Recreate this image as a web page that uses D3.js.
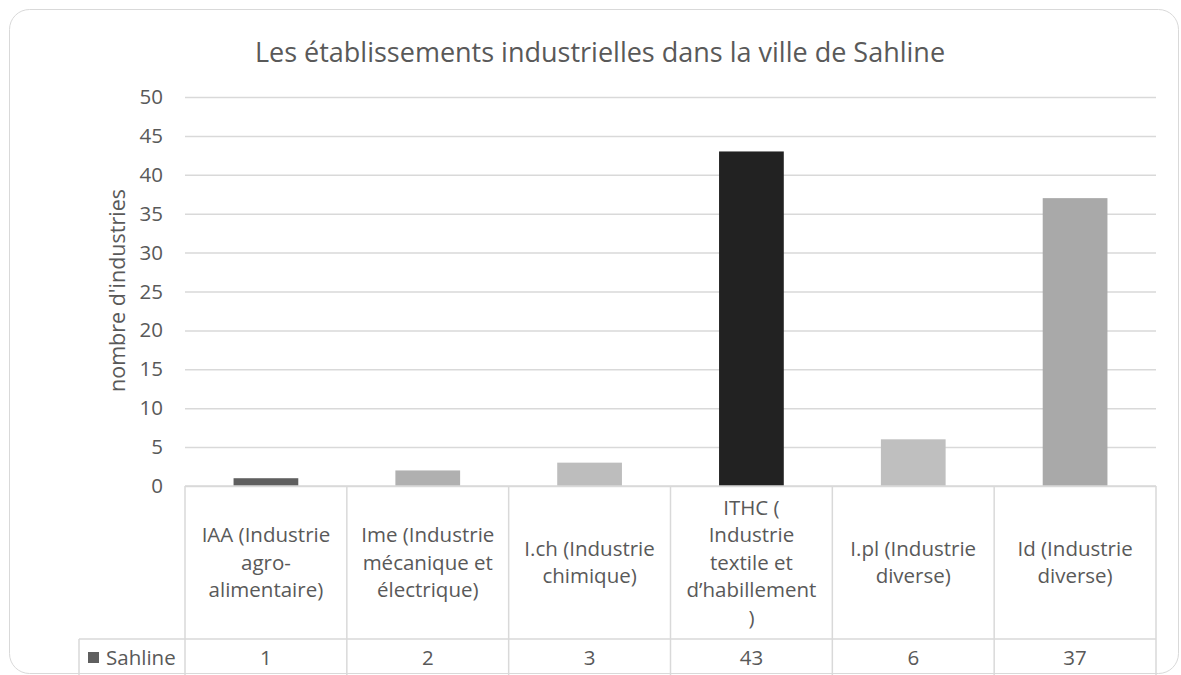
<!DOCTYPE html>
<html>
<head>
<meta charset="utf-8">
<script src="https://cdn.jsdelivr.net/npm/d3@7"></script>
<style>
  body { margin: 0; background: #fff; }
  svg text { font-family: "Open Sans", "Noto Sans", sans-serif; fill: #595959; }
</style>
</head>
<body>
<div id="chart"></div>
<script>
var width = 1181;
var height = 675;

var title = "Les établissements industrielles dans la ville de Sahline";
var yLabel = "nombre d'industries";
var seriesName = "Sahline";
var categories = [
    "IAA (Industrie\nagro-\nalimentaire)",
    "Ime (Industrie\nmécanique et\nélectrique)",
    "I.ch (Industrie\nchimique)",
    "ITHC (\nIndustrie\ntextile et\nd’habillement\n)",
    "I.pl (Industrie\ndiverse)",
    "Id (Industrie\ndiverse)"
];
var values = [1, 2, 3, 43, 6, 37];
var barColors = ["#5f5f5f", "#b0b0b0", "#bdbdbd", "#222222", "#bfbfbf", "#a9a9a9"];
var yTicks = [0, 5, 10, 15, 20, 25, 30, 35, 40, 45, 50];

var plot = {left: 185, right: 1156, top: 97, bottom: 486};
var headerBottom = 639;
var tableLeft = 79;

var svg = d3.select('#chart')
    .append('svg')
    .attr('width', width)
    .attr('height', height);

// outer frame
svg.append('rect')
    .attr('x', 9.5)
    .attr('y', 9.5)
    .attr('width', 1169)
    .attr('height', 664)
    .attr('rx', 20)
    .attr('fill', '#fff')
    .attr('stroke', '#d9d9d9')
    .attr('stroke-width', 1);

var x = d3.scaleBand()
    .domain(categories)
    .range([plot.left, plot.right])
    .paddingInner(0.6)
    .paddingOuter(0.3);

var xCell = d3.scaleBand()
    .domain(categories)
    .range([plot.left, plot.right]);

var y = d3.scaleLinear()
    .domain([0, 50])
    .range([plot.bottom, plot.top]);

// title
svg.append('text')
    .attr('x', 600)
    .attr('y', 62)
    .attr('text-anchor', 'middle')
    .style('font-size', '27px')
    .text(title);

// gridlines + tick labels
var yAxis = d3.axisLeft(y)
    .tickValues(yTicks)
    .tickSize(-(plot.right - plot.left))
    .tickPadding(22);

var gy = svg.append('g')
    .attr('transform', 'translate(' + plot.left + ',0)')
    .call(yAxis);
gy.select('.domain').remove();
gy.selectAll('.tick line')
    .attr('stroke', '#d9d9d9')
    .attr('stroke-width', 1.5);
gy.selectAll('.tick text')
    .style('font-size', '20.5px')
    .style('font-family', '"Open Sans", sans-serif')
    .attr('fill', '#595959');

// y axis title
svg.append('text')
    .attr('transform', 'translate(125,' + ((plot.top + plot.bottom) / 2 - 1) + ') rotate(-90)')
    .attr('text-anchor', 'middle')
    .style('font-size', '21.5px')
    .text(yLabel);

// bars
svg.selectAll('rect.bar')
    .data(values)
    .enter()
    .append('rect')
    .attr('class', 'bar')
    .attr('x', function(d, i) { return x(categories[i]); })
    .attr('width', x.bandwidth())
    .attr('y', function(d) { return y(d); })
    .attr('height', function(d) { return y(0) - y(d); })
    .attr('fill', function(d, i) { return barColors[i]; });

// data table
var tableStyle = 'stroke:#d9d9d9;stroke-width:1.5';
svg.append('line')
    .attr('x1', plot.left).attr('x2', plot.right)
    .attr('y1', plot.bottom).attr('y2', plot.bottom)
    .attr('style', tableStyle);
svg.append('line')
    .attr('x1', tableLeft).attr('x2', plot.right)
    .attr('y1', headerBottom).attr('y2', headerBottom)
    .attr('style', tableStyle);
svg.append('line')
    .attr('x1', tableLeft).attr('x2', tableLeft)
    .attr('y1', headerBottom).attr('y2', height)
    .attr('style', tableStyle);
for (var i = 0; i <= categories.length; i++)
{
    var cx = i < categories.length ? xCell(categories[i]) : plot.right;
    svg.append('line')
        .attr('x1', cx).attr('x2', cx)
        .attr('y1', plot.bottom).attr('y2', height)
        .attr('style', tableStyle);
}

var lineH = 27.5;
var cellMid = (plot.bottom + headerBottom) / 2;
categories.forEach(function(c, i) {
    var lines = c.split('\n');
    var t = svg.append('text')
        .attr('text-anchor', 'middle')
        .style('font-size', '20.5px');
    lines.forEach(function(l, j) {
        t.append('tspan')
            .attr('x', xCell(c) + xCell.bandwidth() / 2)
            .attr('y', cellMid + (j - (lines.length - 1) / 2) * lineH + 7)
            .text(l);
    });
    svg.append('text')
        .attr('x', xCell(c) + xCell.bandwidth() / 2)
        .attr('y', 665)
        .attr('text-anchor', 'middle')
        .style('font-size', '20.5px')
        .text(values[i]);
});

// legend key
svg.append('rect')
    .attr('x', 88)
    .attr('y', 652)
    .attr('width', 11)
    .attr('height', 11)
    .attr('fill', barColors[0]);
svg.append('text')
    .attr('x', 106)
    .attr('y', 665)
    .style('font-size', '20.5px')
    .text(seriesName);
</script>
</body>
</html>
